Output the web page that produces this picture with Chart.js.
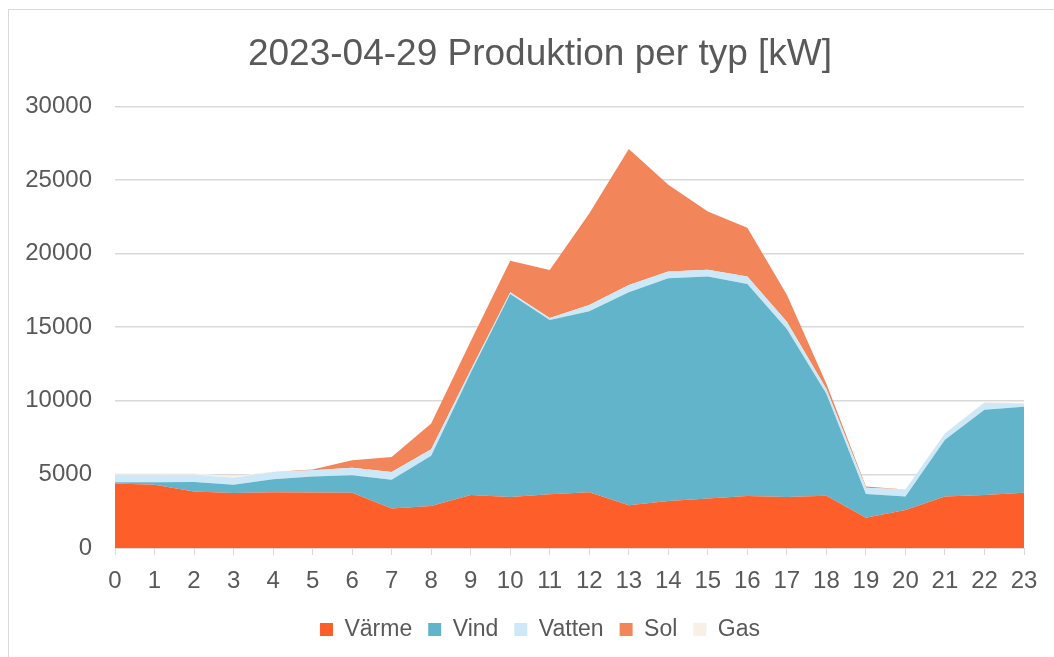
<!DOCTYPE html>
<html>
<head>
<meta charset="utf-8">
<script src="https://cdn.jsdelivr.net/npm/chart.js@4"></script>
<style>
	body {
		margin: 0;
		background: #fff;
		overflow: hidden;
	}
	.frame {
		position: absolute;
		left: 8px;
		top: 9px;
		width: 1100px;
		height: 700px;
		border: 1px solid #d9d9d9;
	}
	#myChart {
		position: absolute;
		left: 0;
		top: 0;
	}
</style>
</head>
<body>
<div class="frame"></div>
<canvas id="myChart" width="1100" height="657"></canvas>
<script>
const hours = ['0', '1', '2', '3', '4', '5', '6', '7', '8', '9', '10', '11', '12', '13', '14', '15', '16', '17', '18', '19', '20', '21', '22', '23'];

// kW per typ
const varme = [4380, 4290, 3830, 3740, 3790, 3770, 3760, 2680, 2860, 3600, 3470, 3650, 3790, 2900, 3200, 3360, 3540, 3470, 3550, 2060, 2580, 3500, 3600, 3760];
const vind = [80, 170, 660, 550, 880, 1080, 1180, 1950, 3400, 8300, 13790, 11840, 12290, 14470, 15120, 15080, 14400, 11410, 6930, 1610, 920, 3850, 5790, 5830];
const vatten = [520, 510, 480, 490, 500, 430, 520, 540, 450, 200, 110, 140, 430, 500, 460, 470, 500, 490, 320, 430, 470, 430, 470, 230];
const sol = [0, 0, 0, 0, 0, 50, 500, 1020, 1750, 1950, 2150, 3260, 6210, 9230, 5890, 3950, 3310, 1840, 350, 70, 0, 0, 0, 0];
const gas = [100, 100, 100, 100, 30, 0, 0, 0, 0, 0, 0, 0, 0, 0, 0, 0, 0, 0, 0, 0, 0, 50, 50, 50];

const yTicks = [0, 5000, 10000, 15000, 20000, 25000, 30000];

const seriesNames = ['Värme', 'Vind', 'Vatten', 'Sol', 'Gas'];
const seriesData = [varme, vind, vatten, sol, gas];
const seriesColors = ['#fd5e2a', '#62b4ca', '#cde8f7', '#f2855a', '#f8f0e6'];

const textColor = '#595959';
const gridColor = '#d9d9d9';
const fontFamily = '"Liberation Sans", Arial, sans-serif';

let datasets = seriesNames.map((name, i) => {
	return {
		label: name,
		data: seriesData[i],
		backgroundColor: seriesColors[i],
		borderColor: 'transparent',
		borderWidth: 0,
		pointRadius: 0,
		tension: 0,
		fill: i == 0 ? 'origin' : '-1',
	};
});

const ctx = document.getElementById('myChart');

let chart = new Chart(ctx, {
	type: 'line',
	data: {
		labels: hours,
		datasets: datasets,
	},
	options: {
		responsive: false,
		animation: false,
		devicePixelRatio: 1,
		layout: {
			padding: { left: 10, right: 30, top: 0, bottom: 6 },
		},
		scales: {
			x: {
				offset: false,
				grid: {
					drawOnChartArea: false,
					drawTicks: true,
					tickLength: 7,
					color: gridColor,
				},
				border: {
					display: true,
					color: gridColor,
				},
				ticks: {
					color: textColor,
					padding: 12,
					maxRotation: 0,
					autoSkip: false,
					font: { family: fontFamily, size: 24 },
				},
				afterFit: (scale) => {
					scale.height = 54;
				},
			},
			y: {
				stacked: true,
				min: 0,
				max: 30000,
				afterBuildTicks: (scale) => {
					scale.ticks = yTicks.map((v) => ({ value: v }));
				},
				grid: {
					color: gridColor,
					lineWidth: 1.5,
					drawTicks: false,
				},
				border: {
					display: false,
				},
				ticks: {
					color: textColor,
					padding: 23,
					font: { family: fontFamily, size: 24 },
					callback: (value) => String(value),
				},
				afterFit: (scale) => {
					scale.width = 105;
				},
			},
			// tom axel till höger, bara för att flytta titel och förklaring i sidled
			spacer: {
				position: 'right',
				grid: { display: false },
				border: { display: false },
				ticks: { display: false },
				afterFit: (scale) => {
					scale.width = 46;
				},
			},
		},
		plugins: {
			title: {
				display: true,
				text: '2023-04-29 Produktion per typ [kW]',
				color: textColor,
				font: { family: fontFamily, size: 37, weight: 'normal' },
				padding: { top: 33, bottom: 29 },
			},
			legend: {
				display: true,
				position: 'bottom',
				labels: {
					color: textColor,
					boxWidth: 13,
					boxHeight: 13,
					padding: 16,
					font: { family: fontFamily, size: 23 },
				},
			},
			tooltip: {
				enabled: false,
			},
		},
	},
});
</script>
</body>
</html>
